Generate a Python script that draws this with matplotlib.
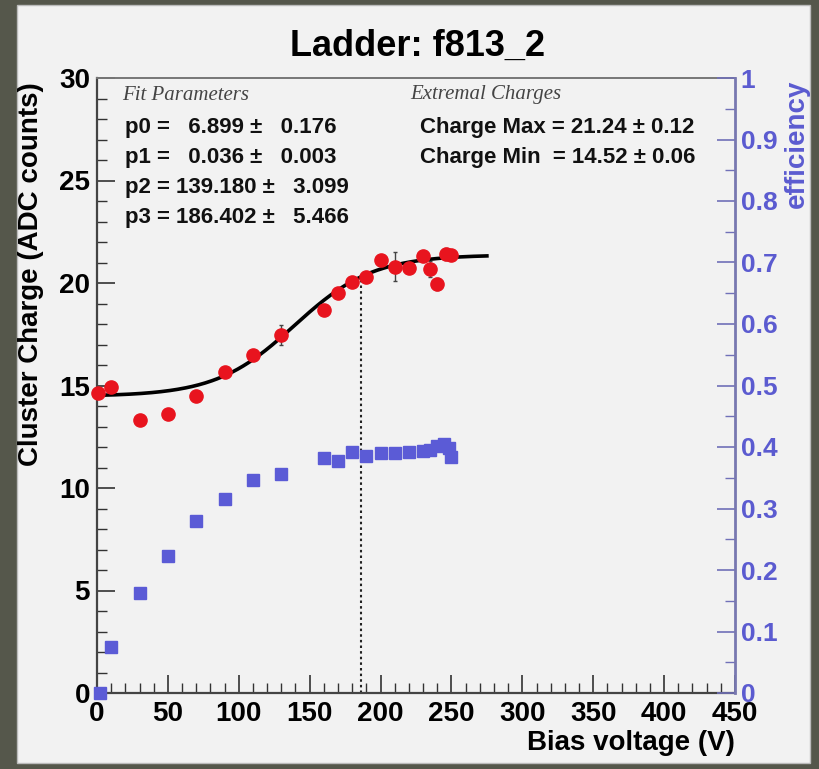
import numpy as np
import matplotlib.pyplot as plt
from matplotlib.patches import Rectangle

# data
bias_charge = [1, 10, 30, 50, 70, 90, 110, 130, 160, 170, 180, 190, 200, 210,
               220, 230, 235, 240, 246, 250]
charge = [14.63, 14.94, 13.32, 13.61, 14.50, 15.67, 16.49, 17.46, 18.68, 19.53,
          20.07, 20.31, 21.12, 20.80, 20.72, 21.30, 20.68, 19.94, 21.42, 21.37]
charge_err = [0.15, 0.15, 0.15, 0.15, 0.15, 0.15, 0.15, 0.5, 0.15, 0.15,
              0.15, 0.15, 0.15, 0.7, 0.2, 0.15, 0.4, 0.3, 0.3, 0.15]

bias_eff = [2, 10, 30, 50, 70, 90, 110, 130, 160, 170, 180, 190, 200, 210,
            220, 230, 235, 240, 245, 248, 250]
efficiency = [0.0, 0.075, 0.163, 0.222, 0.280, 0.315, 0.347, 0.356, 0.382, 0.377,
              0.392, 0.385, 0.391, 0.391, 0.392, 0.394, 0.395, 0.402, 0.405, 0.398, 0.384]

# fit parameters shown in the stats box
p0, p1, p2, p3 = 6.899, 0.036, 139.180, 186.402
charge_max, charge_min = 21.24, 14.52
fit_range = (0, 275)

W, H = 819, 769
fig = plt.figure(figsize=(W / 100, H / 100), dpi=100)
fig.patch.set_facecolor("#55574b")

def fx(px):
    return px / W

def fy(py):
    return 1 - py / H

# canvas
fig.patches.append(Rectangle((fx(17), fy(763)), fx(810) - fx(17), fy(5) - fy(763),
                             transform=fig.transFigure, facecolor="#f2f2f2",
                             edgecolor="#bbbbbb", lw=1, zorder=-5))

ax = fig.add_axes([fx(97), fy(693), fx(735) - fx(97), fy(78) - fy(693)])
ax.set_facecolor("#f2f2f2")
ax.set_xlim(0, 450)
ax.set_ylim(0, 30)

bold = dict(family=["Liberation Sans", "DejaVu Sans"], weight="bold")

# fit curve
base = charge_min - p0 / (1 + np.exp(p1 * p2))
xf = np.linspace(fit_range[0], fit_range[1], 300)
yf = base + p0 / (1 + np.exp(-p1 * (xf - p2)))
ax.plot(xf, yf, color="black", lw=2.6, zorder=3)

# depletion line
yd = base + p0 / (1 + np.exp(-p1 * (p3 - p2)))
ax.plot([p3, p3], [0, yd], color="#222222", lw=1.5, ls=(0, (1.2, 1.5)), zorder=2)

ax.errorbar(bias_charge, charge, yerr=charge_err, fmt="o", color="#e8141e",
            ms=9.5, mec="#e8141e", ecolor="#444444", elinewidth=1, capsize=1.5,
            zorder=4, clip_on=False)

ax2 = ax.twinx()
ax2.set_ylim(0, 1)
ax2.plot(bias_eff, efficiency, "s", color="#5b5bd6", ms=8, zorder=4, clip_on=False)

# ticks
ax.set_xticks(np.arange(0, 451, 50))
ax.set_xticks(np.arange(0, 451, 10), minor=True)
ax.set_yticks(np.arange(0, 31, 5))
ax.set_yticks(np.arange(0, 31, 1), minor=True)
ax.tick_params(axis="both", which="both", direction="in", top=False, right=False,
               colors="#333333", labelcolor="black")
ax.tick_params(axis="x", which="major", length=13, width=1.2, pad=6)
ax.tick_params(axis="x", which="minor", length=7, width=1)
ax.tick_params(axis="y", which="major", length=13, width=1.2, pad=5)
ax.tick_params(axis="y", which="minor", length=7, width=1)
for lab in ax.get_xticklabels() + ax.get_yticklabels():
    lab.set_fontsize(20)
    lab.set_fontweight("bold")
    lab.set_family(["Liberation Sans", "DejaVu Sans"])

ax2.set_yticks(np.arange(0, 1.01, 0.1))
ax2.set_yticklabels(["0", "0.1", "0.2", "0.3", "0.4", "0.5", "0.6", "0.7", "0.8", "0.9", "1"])
ax2.set_yticks(np.arange(0, 1.01, 0.05), minor=True)
ax2.tick_params(axis="y", which="both", direction="in", colors="#7070b8",
                labelcolor="#5b5bd0")
ax2.tick_params(axis="y", which="major", length=13, width=1.2, pad=4)
ax2.tick_params(axis="y", which="minor", length=7, width=1)
for lab in ax2.get_yticklabels():
    lab.set_fontsize(19)
    lab.set_fontweight("bold")
    lab.set_family(["Liberation Sans", "DejaVu Sans"])

for s in ["left", "bottom"]:
    ax.spines[s].set_color("#444444")
    ax.spines[s].set_linewidth(1.6)
ax.spines["top"].set_color("#777777")
ax.spines["top"].set_linewidth(1.4)
ax2.spines["right"].set_color("#7878b0")
ax2.spines["right"].set_linewidth(2)
for s in ["left", "bottom", "top"]:
    ax2.spines[s].set_visible(False)
ax.spines["right"].set_visible(False)

# titles and labels
fig.text(fx(418), fy(46), "Ladder: f813_2", ha="center", va="center", fontsize=26,
         **bold)
fig.text(fx(31), fy(82), "Cluster Charge (ADC counts)", rotation=90, ha="center",
         va="top", fontsize=20, **bold)
fig.text(fx(735), fy(743), "Bias voltage (V)", ha="right", va="center", fontsize=20, **bold)
fig.text(fx(797), fy(80), "efficiency", rotation=90, ha="center", va="top",
         fontsize=20, color="#5b5bd0", **bold)

# stats boxes
serif_it = dict(family=["Liberation Serif", "DejaVu Serif"], style="italic",
                color="#444444", fontsize=15)
fig.text(fx(122), fy(95), "Fit Parameters", ha="left", va="center", **serif_it)
fig.text(fx(410), fy(95), "Extremal Charges", ha="left", va="center", **serif_it)

rows = ["p0 =   6.899 \u00b1   0.176",
        "p1 =   0.036 \u00b1   0.003",
        "p2 = 139.180 \u00b1   3.099",
        "p3 = 186.402 \u00b1   5.466"]
for i, r in enumerate(rows):
    fig.text(fx(125), fy(127 + 30 * i), r, ha="left", va="center", fontsize=16,
             color="#111111", **bold)
fig.text(fx(420), fy(128), "Charge Max = %.2f \u00b1 0.12" % charge_max, ha="left",
         va="center", fontsize=16, color="#111111", **bold)
fig.text(fx(420), fy(157), "Charge Min  = %.2f \u00b1 0.06" % charge_min, ha="left",
         va="center", fontsize=16, color="#111111", **bold)

plt.savefig("out.png", dpi=100, facecolor=fig.get_facecolor())
